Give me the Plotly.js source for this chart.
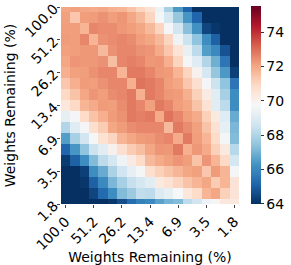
<!DOCTYPE html>
<html>
<head>
<meta charset="utf-8">
<script src="https://cdn.plot.ly/plotly-3.0.1.min.js"></script>
<style>html,body{margin:0;padding:0;background:#fff;}#chart{width:291px;height:265px;}</style>
</head>
<body>
<div id="chart"></div>
<script>
// Sparsity levels (Weights Remaining %), one per row/column
const levels = ["100.0","80.0","64.0","51.2","41.0","32.8","26.2","21.0","16.8","13.4","10.7","8.6","6.9","5.5","4.4","3.5","2.8","2.3","1.8"];
const tickIdx = [0,3,6,9,12,15,18];
const tickLabels = ["100.0","51.2","26.2","13.4","6.9","3.5","1.8"];
const cbTicks = [64,66,68,70,72,74];

// Heatmap rows (top to bottom), values per column (left to right)
const row00 = [72.0,72.1,72.0,71.9,72.0,71.8,71.7,71.4,71.0,70.6,69.4,67.8,66.4,65.1,64.0,63.9,63.9,63.9,63.9];
const row01 = [72.1,71.3,72.15,72.2,72.35,72.15,72.3,72.0,71.6,71.0,69.6,68.7,67.5,66.3,65.1,63.9,63.9,63.9,63.9];
const row02 = [72.15,72.15,71.7,72.55,72.45,72.45,72.25,72.15,72.0,71.6,71.0,69.6,68.6,67.3,66.2,64.4,64.1,63.9,63.9];
const row03 = [72.2,72.15,72.55,71.7,72.35,72.45,72.55,72.45,72.15,72.0,71.6,71.0,69.5,68.5,67.4,66.1,65.0,63.9,63.9];
const row04 = [72.1,72.15,72.25,72.25,71.6,72.35,72.55,72.55,72.35,72.3,71.9,71.3,70.5,69.3,68.2,66.5,66.0,64.7,63.9];
const row05 = [72.0,72.3,72.25,72.25,72.35,71.5,72.55,72.65,72.55,72.25,72.3,71.8,71.0,69.6,69.0,68.0,66.9,65.5,63.9];
const row06 = [71.8,72.1,72.15,72.35,72.55,72.55,71.7,72.75,72.75,72.55,72.25,72.2,71.7,71.0,70.0,68.7,67.5,66.4,64.3];
const row07 = [71.3,71.8,72.2,72.15,72.35,72.55,72.55,71.8,72.85,72.75,72.55,72.15,72.0,71.3,70.7,69.6,68.5,67.4,65.5];
const row08 = [70.9,71.4,72.0,72.3,72.15,72.45,72.55,72.75,71.8,72.75,72.55,72.25,72.2,71.8,71.1,70.2,69.1,67.8,66.1];
const row09 = [70.4,70.9,71.7,71.9,72.2,72.15,72.45,72.75,72.55,72.1,72.75,72.55,72.15,72.0,71.4,70.6,69.1,68.2,66.1];
const row10 = [69.2,69.6,70.8,71.4,71.8,72.2,72.35,72.75,72.65,72.75,71.9,72.85,72.55,72.15,71.9,71.1,70.3,69.0,66.8];
const row11 = [68.0,69.0,69.6,70.7,71.2,72.0,72.2,72.45,72.55,72.55,72.55,71.6,72.75,72.45,72.1,71.4,70.6,69.2,67.1];
const row12 = [66.5,67.8,68.6,69.6,70.6,71.0,71.7,72.0,72.2,72.25,72.45,72.55,71.9,72.75,72.15,71.7,70.8,69.6,67.2];
const row13 = [65.1,66.3,67.4,68.5,69.1,70.0,70.7,71.2,71.5,72.0,72.3,72.25,72.75,71.8,72.25,71.9,71.1,70.3,68.1];
const row14 = [64.2,65.0,66.1,67.2,68.2,68.7,69.5,70.2,70.8,71.6,71.9,72.1,72.3,72.15,71.4,72.3,71.7,70.9,68.7];
const row15 = [63.9,63.9,64.3,66.1,66.8,67.9,68.6,69.2,69.6,70.7,71.1,71.4,71.7,72.0,72.1,71.3,72.2,71.7,69.6];
const row16 = [63.9,63.9,64.1,65.0,66.0,67.1,67.8,68.4,68.7,69.1,70.3,70.6,71.0,71.4,71.7,72.0,71.2,71.7,70.5];
const row17 = [63.9,63.9,63.9,64.4,65.2,66.1,67.2,67.6,68.3,68.2,68.9,69.2,69.7,70.4,70.8,71.7,72.0,71.1,70.5];
const row18 = [63.9,63.9,63.9,63.9,63.9,64.1,64.6,65.3,65.8,66.0,66.6,67.0,67.2,68.2,68.6,69.4,69.8,70.4,70.3];

const z = [row00,row01,row02,row03,row04,row05,row06,row07,row08,row09,row10,row11,row12,row13,row14,row15,row16,row17,row18];
const idx = levels.map((_, i) => i);

// matplotlib RdBu_r
const rdbuR = [
  [0.0,'#053061'],[0.1,'#2166ac'],[0.2,'#4393c3'],[0.3,'#92c5de'],[0.4,'#d1e5f0'],
  [0.5,'#f7f7f7'],[0.6,'#fddbc7'],[0.7,'#f4a582'],[0.8,'#d6604d'],[0.9,'#b2182b'],[1.0,'#67001f']
];

const font = {family: 'DejaVu Sans, sans-serif', color: '#000'};

const trace = {
  type: 'heatmap',
  x: idx, y: idx, z: z,
  zmin: 63.95, zmax: 75.5,
  colorscale: rdbuR,
  hoverinfo: 'skip',
  colorbar: {
    x: 1.065, xanchor: 'left', xpad: 0,
    y: 0.5, yanchor: 'middle', ypad: 0,
    len: 1.005, lenmode: 'fraction', thickness: 10,
    outlinewidth: 0,
    tickvals: cbTicks, ticktext: cbTicks.map(String),
    ticks: 'outside', ticklen: 3, tickcolor: '#333',
    tickfont: Object.assign({size: 14}, font)
  }
};

const axisCommon = {
  tickvals: tickIdx, ticktext: tickLabels,
  tickangle: -45,
  ticks: 'outside', ticklen: 3, tickcolor: '#444',
  tickfont: Object.assign({size: 14}, font),
  showgrid: false, zeroline: false, showline: false,
  automargin: false
};

const layout = {
  width: 291, height: 265,
  margin: {l: 61, r: 46, t: 7, b: 61, pad: 0},
  paper_bgcolor: '#fff', plot_bgcolor: '#fff',
  font: font,
  xaxis: Object.assign({}, axisCommon, {
    range: [-0.5, 18.5],
    title: {text: 'Weights Remaining (%)', font: Object.assign({size: 14}, font), standoff: 4}
  }),
  yaxis: Object.assign({}, axisCommon, {
    range: [18, 0],
    title: {text: 'Weights Remaining (%)', font: Object.assign({size: 14}, font), standoff: 2}
  })
};

Plotly.newPlot('chart', [trace], layout, {staticPlot: true, displayModeBar: false});
</script>
</body>
</html>
